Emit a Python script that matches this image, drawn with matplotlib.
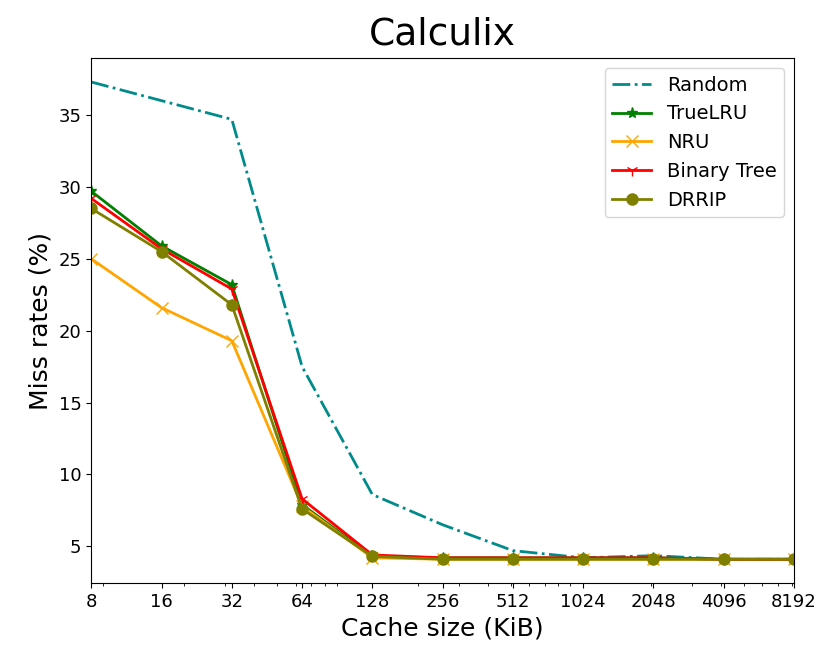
import matplotlib
matplotlib.use("Agg")
import matplotlib.pyplot as plt
from matplotlib.ticker import ScalarFormatter, NullFormatter

# Cache sizes (KiB) and miss rates (%)
sizes = [8, 16, 32, 64, 128, 256, 512, 1024, 2048, 4096, 8192]
random_mr = [37.3, 36.0, 34.7, 17.5, 8.6, 6.5, 4.7, 4.2, 4.35, 4.1, 4.1]
truelru_mr = [29.7, 25.9, 23.2, 7.9, 4.3, 4.2, 4.2, 4.2, 4.2, 4.1, 4.1]
nru_mr = [25.0, 21.6, 19.3, 7.8, 4.2, 4.1, 4.1, 4.1, 4.1, 4.1, 4.1]
bintree_mr = [29.2, 25.7, 22.9, 8.3, 4.4, 4.2, 4.2, 4.2, 4.2, 4.1, 4.1]
drrip_mr = [28.5, 25.5, 21.8, 7.6, 4.3, 4.1, 4.1, 4.1, 4.1, 4.1, 4.1]

fig = plt.figure(figsize=(8.22, 6.53), dpi=100)
ax = fig.add_axes([0.111, 0.107, 0.855, 0.804])

ax.plot(sizes, random_mr, color="darkcyan", linestyle="-.", linewidth=2, label="Random")
ax.plot(sizes, truelru_mr, color="green", marker="*", markersize=8, linewidth=2, label="TrueLRU")
ax.plot(sizes, nru_mr, color="orange", marker="x", markersize=8, linewidth=2, label="NRU")
ax.plot(sizes, bintree_mr, color="red", marker="1", markersize=9, linewidth=2, label="Binary Tree")
ax.plot(sizes, drrip_mr, color="olive", marker="o", markersize=8, linewidth=2, label="DRRIP")

ax.set_xscale("log")
ax.set_xticks(sizes)
ax.xaxis.set_major_formatter(ScalarFormatter())
ax.xaxis.set_minor_formatter(NullFormatter())
ax.set_xlim(8, 8192)
ax.tick_params(labelsize=13)

ax.set_title("Calculix", fontsize=27, pad=10)
ax.set_xlabel("Cache size (KiB)", fontsize=18)
ax.set_ylabel("Miss rates (%)", fontsize=18)
ax.legend(loc="upper right", fontsize=14)

fig.savefig("out.png", dpi=100)
